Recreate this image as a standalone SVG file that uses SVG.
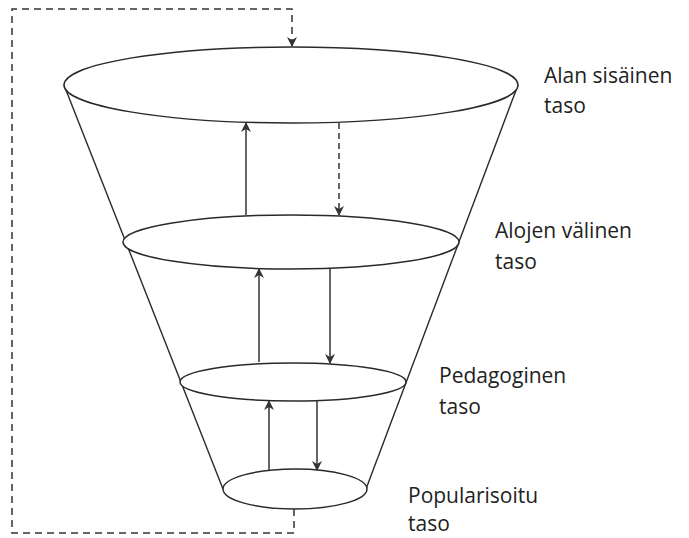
<svg xmlns="http://www.w3.org/2000/svg" width="689" height="538" viewBox="0 0 689 538">
<style>
.lvl{fill:#fff;stroke:#2a2a2a;stroke-width:1.5}
.cone{stroke:#2a2a2a;stroke-width:1.4;fill:none}
.arr{stroke:#333;stroke-width:1.5;fill:none;marker-end:url(#ah)}
.dash{stroke:#333;stroke-width:1.5;fill:none;stroke-dasharray:7 5}
.lbl{font-family:"Open Sans",sans-serif;font-size:21px;fill:#222}
</style>
<defs>
<marker id="ah" viewBox="0 0 10 10" refX="9" refY="5" markerWidth="10" markerHeight="10" markerUnits="userSpaceOnUse" orient="auto">
<path d="M0,0 L10,5 L0,10 L3,5 Z" fill="#333"/>
</marker>
</defs>
<g id="cone">
<line class="cone" x1="64" y1="85" x2="223" y2="489"/>
<line class="cone" x1="518" y1="85" x2="366" y2="489"/>
</g>
<g id="level1"><ellipse class="lvl" cx="291" cy="85" rx="227" ry="38"/><text class="lbl" x="544" y="83">Alan sisäinen</text><text class="lbl" x="544" y="113">taso</text></g>
<g id="level2"><ellipse class="lvl" cx="291" cy="242" rx="168" ry="27"/><text class="lbl" x="495" y="238">Alojen välinen</text><text class="lbl" x="495" y="269">taso</text></g>
<g id="level3"><ellipse class="lvl" cx="293" cy="382" rx="113" ry="19"/><text class="lbl" x="439" y="383">Pedagoginen</text><text class="lbl" x="439" y="414">taso</text></g>
<g id="level4"><ellipse class="lvl" cx="295" cy="489" rx="72" ry="20"/><text class="lbl" x="408" y="503">Popularisoitu</text><text class="lbl" x="408" y="531">taso</text></g>
<g id="connectors">
<line class="arr" x1="246" y1="215" x2="246" y2="123"/>
<line class="arr" x1="339" y1="123" x2="339" y2="215" style="stroke-dasharray:6 4"/>
<line class="arr" x1="259" y1="362" x2="259" y2="269"/>
<line class="arr" x1="330" y1="269" x2="330" y2="363"/>
<line class="arr" x1="269" y1="470" x2="269" y2="401"/>
<line class="arr" x1="317" y1="401" x2="317" y2="470"/>
<path class="dash" d="M294,509 V533 H12 V9 H292 V46" marker-end="url(#ah)"/>
</g>
</svg>
